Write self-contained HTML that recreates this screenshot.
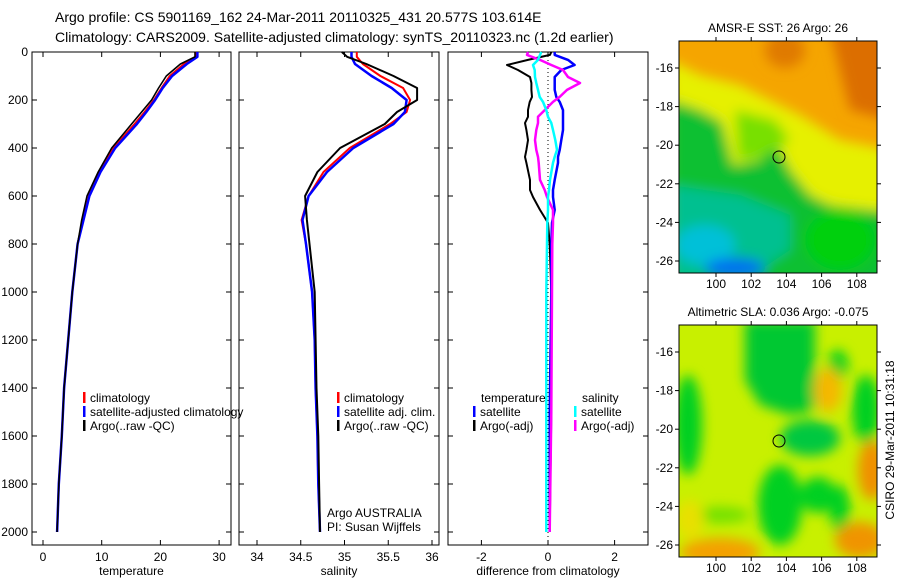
<!DOCTYPE html>
<html><head><meta charset="utf-8"><style>
body{margin:0;background:#fff;}
svg{display:block;font-family:"Liberation Sans",sans-serif;}
</style></head><body>
<svg id="fig" width="900" height="580" viewBox="0 0 900 580" xmlns="http://www.w3.org/2000/svg">
<defs>
<filter id="bl" x="-20%" y="-20%" width="140%" height="140%"><feGaussianBlur stdDeviation="6"/></filter>
<clipPath id="c1"><rect x="679" y="41" width="198" height="232"/></clipPath>
<clipPath id="c2"><rect x="679" y="325" width="198" height="232"/></clipPath>
</defs>
<text x="55" y="22" font-size="14">Argo profile: CS 5901169_162 24-Mar-2011 20110325_431 20.577S 103.614E</text>
<text x="55" y="42" font-size="14">Climatology: CARS2009. Satellite-adjusted climatology: synTS_20110323.nc (1.2d earlier)</text>

<g>
<g clip-path="url(#c1)">
<rect x="679" y="41" width="198" height="232" fill="#f5a500"/>
<g filter="url(#bl)">
<polygon points="830,30 890,30 890,120 850,110" fill="#dc6e00"/>
<ellipse cx="785" cy="50" rx="20" ry="18" fill="#e07a00"/>
<polygon points="670,60 700,75 740,85 800,115 840,140 890,150 890,225 670,225" fill="#e6f000"/>
<polygon points="670,100 700,110 722,122 733,165 760,160 775,140 790,170 810,195 830,205 890,212 890,290 670,290" fill="#10c030"/>
<polygon points="735,110 775,120 790,140 775,150 760,158 738,160" fill="#78e000"/>
<polygon points="670,185 740,195 790,215 790,250 760,270 670,280" fill="#00c090"/>
<ellipse cx="705" cy="245" rx="30" ry="20" fill="#00c0d8"/>
<ellipse cx="735" cy="268" rx="30" ry="10" fill="#0070f0"/>
<ellipse cx="840" cy="240" rx="35" ry="30" fill="#00d010"/>
</g>
</g>
<rect x="679" y="41" width="198" height="232" fill="none" stroke="#000"/>
<circle cx="779" cy="157" r="6" fill="none" stroke="#000"/>
<text x="778" y="32" font-size="12" text-anchor="middle">AMSR-E SST: 26 Argo: 26</text>
</g>

<g>
<g clip-path="url(#c2)">
<rect x="679" y="325" width="198" height="232" fill="#c8f000"/>
<g filter="url(#bl)">
<polygon points="745,320 815,320 815,410 790,415 760,405 745,380" fill="#00c830"/>
<ellipse cx="688" cy="425" rx="14" ry="50" fill="#00d020"/>
<ellipse cx="866" cy="410" rx="14" ry="35" fill="#00d020"/>
<ellipse cx="838" cy="365" rx="10" ry="15" fill="#00d020"/>
<ellipse cx="810" cy="438" rx="30" ry="18" fill="#00c840"/>
<ellipse cx="780" cy="505" rx="22" ry="40" fill="#00d020"/>
<ellipse cx="818" cy="495" rx="18" ry="18" fill="#00d020"/>
<ellipse cx="840" cy="510" rx="10" ry="25" fill="#00d020"/>
<ellipse cx="720" cy="515" rx="30" ry="8" fill="#70e000"/>
<ellipse cx="828" cy="390" rx="14" ry="22" fill="#f5b800"/>
<ellipse cx="872" cy="470" rx="14" ry="30" fill="#f09000"/>
<ellipse cx="720" cy="552" rx="40" ry="14" fill="#f4a000"/>
<ellipse cx="860" cy="540" rx="25" ry="18" fill="#f09400"/>
<ellipse cx="690" cy="520" rx="14" ry="20" fill="#e8e000"/>
</g>
</g>
<rect x="679" y="325" width="198" height="232" fill="none" stroke="#000"/>
<circle cx="779" cy="441" r="6" fill="none" stroke="#000"/>
<text x="778" y="316" font-size="12" text-anchor="middle">Altimetric SLA: 0.036 Argo: -0.075</text>
</g>
<text transform="translate(894,440) rotate(-90)" font-size="12" text-anchor="middle">CSIRO 29-Mar-2011 10:31:18</text>
<g id="axes"></g>
</svg>
<script>
// ---- data ----
const depths = [0, 20, 50, 100, 150, 200, 250, 300, 400, 500, 600, 700, 800, 1000, 1200, 1400, 1600, 1800, 2000];
const tempArgo = [25.9, 25.9, 23.4, 21.0, 19.7, 18.5, 16.8, 15.1, 11.7, 9.4, 7.5, 6.6, 5.9, 5.0, 4.3, 3.6, 3.2, 2.7, 2.4];
const tempClim = [26.1, 26.1, 24.0, 21.6, 20.2, 18.9, 17.3, 15.6, 12.0, 9.7, 7.8, 6.8, 5.9, 5.0, 4.3, 3.6, 3.2, 2.7, 2.4];
const tempSat = [26.3, 26.3, 24.5, 22.0, 20.4, 19.1, 17.6, 16.0, 12.3, 9.8, 7.9, 6.9, 5.9, 5.0, 4.3, 3.6, 3.2, 2.7, 2.4];
const salArgo = [34.97, 35.03, 35.25, 35.56, 35.83, 35.83, 35.60, 35.46, 34.95, 34.69, 34.55, 34.57, 34.60, 34.66, 34.67, 34.68, 34.70, 34.71, 34.72];
const salClim = [35.14, 35.14, 35.21, 35.41, 35.67, 35.75, 35.71, 35.52, 35.06, 34.76, 34.59, 34.51, 34.56, 34.63, 34.66, 34.67, 34.69, 34.70, 34.72];
const salSat = [35.08, 35.08, 35.12, 35.31, 35.54, 35.71, 35.69, 35.56, 35.10, 34.80, 34.59, 34.52, 34.56, 34.63, 34.66, 34.67, 34.69, 34.70, 34.72];
const diffDepths = [0, 12, 33, 54, 75, 104, 129, 158, 187, 208, 242, 270, 296, 325, 367, 408, 437, 462, 533, 575, 604, 658, 712, 800, 1000, 1500, 2000];
const dTempArgo = [0.1, 0.06, -0.6, -1.23, -0.9, -0.54, -0.5, -0.5, -0.48, -0.55, -0.6, -0.6, -0.69, -0.65, -0.6, -0.65, -0.69, -0.65, -0.54, -0.54, -0.45, -0.24, 0.0, 0.05, 0.1, 0.1, 0.05];
const dTempSat = [0.2, 0.2, 0.6, 0.8, 0.4, 0.2, 0.2, 0.2, 0.25, 0.35, 0.45, 0.45, 0.45, 0.45, 0.4, 0.35, 0.3, 0.3, 0.2, 0.15, 0.15, 0.2, 0.12, 0.1, 0.1, 0.05, 0.05];
const dSalArgo = [-0.6, -0.63, -0.24, 0.1, 0.45, 0.6, 0.96, 0.57, 0.35, 0.15, -0.1, -0.3, -0.3, -0.35, -0.39, -0.35, -0.3, -0.28, -0.24, -0.1, -0.03, 0.15, 0.15, 0.13, 0.12, 0.1, 0.05];
const dSalSat = [-0.2, -0.24, -0.3, -0.45, -0.4, -0.39, -0.35, -0.3, -0.25, -0.15, -0.05, 0.0, 0.1, 0.15, 0.22, 0.27, 0.2, 0.15, 0.06, 0.03, 0.0, 0.0, -0.02, -0.03, -0.05, -0.05, -0.05];
const depthTicks = [0, 200, 400, 600, 800, 1000, 1200, 1400, 1600, 1800, 2000];
const tempTicks = [0, 10, 20, 30];
const salTicks = [34, 34.5, 35, 35.5, 36];
const diffTicks = [-2, 0, 2];
const lonTicks = [100, 102, 104, 106, 108];
const latTicks = [16, 18, 20, 22, 24, 26];

// ---- scales ----
const yD = d => 52 + d * 0.24;
const xT = t => 43 + t * 5.87;
const xS = s => 257 + (s - 34) * 87.5;
const xDf = v => 548 + v * 33.3;
const xLon = l => 716 + (l - 100) * 17.6;
const yLat1 = l => 68 + (l - 16) * 19.3;
const yLat2 = l => 352 + (l - 16) * 19.3;

const NS = 'http://www.w3.org/2000/svg';
const g = document.getElementById('axes');
function mk(tag, attrs, parent) {
  const e = document.createElementNS(NS, tag);
  for (const k in attrs) e.setAttribute(k, attrs[k]);
  (parent || g).appendChild(e);
  return e;
}
function txt(x, y, s, anchor, size) {
  const t = mk('text', {x: x, y: y, 'font-size': size || 12, 'text-anchor': anchor || 'middle'});
  t.textContent = s;
  return t;
}
const panels = [
  {x0: 32, x1: 231, name: 'temperature-panel', label: 'temperature', ticks: tempTicks, sx: xT},
  {x0: 239, x1: 439, name: 'salinity-panel', label: 'salinity', ticks: salTicks, sx: xS},
  {x0: 448, x1: 648, name: 'difference-panel', label: 'difference from climatology', ticks: diffTicks, sx: xDf}
];
panels.forEach((p, i) => {
  const r = mk('rect', {x: p.x0, y: 52, width: p.x1 - p.x0, height: 493, fill: 'none', stroke: '#000'});
  
  
  p.ticks.forEach(t => {
    const x = p.sx(t);
    mk('line', {x1: x, x2: x, y1: 52, y2: 57, stroke: '#000'});
    mk('line', {x1: x, x2: x, y1: 545, y2: 540, stroke: '#000'});
    const tl = txt(x, 561, String(t));
    
    
  });
  depthTicks.forEach(d => {
    mk('line', {x1: p.x1, x2: p.x1 - 5, y1: yD(d), y2: yD(d), stroke: '#000'});
    mk('line', {x1: p.x0, x2: p.x0 + 5, y1: yD(d), y2: yD(d), stroke: '#000'});
  });
  const al = txt((p.x0 + p.x1) / 2, 575, p.label);
  
  
});
depthTicks.forEach(d => {
  const t = txt(28, yD(d) + 4, String(d), 'end');
  
  
});
// zero line in difference panel
const zl = mk('line', {x1: xDf(0), x2: xDf(0), y1: 52, y2: 545, stroke: '#000', 'stroke-dasharray': '1,3'});



function series(vals, dep, sx, color, w, name) {
  const pts = vals.map((v, i) => sx(v).toFixed(1) + ',' + yD(dep[i]).toFixed(1)).join(' ');
  const l = mk('polyline', {points: pts, fill: 'none', stroke: color, 'stroke-width': w, 'stroke-linejoin': 'round'});
  
  
}
series(tempClim, depths, xT, '#f00', 2, 'temp-climatology-line');
series(tempSat, depths, xT, '#00f', 2.5, 'temp-satellite-line');
series(tempArgo, depths, xT, '#000', 1.6, 'temp-argo-line');
series(salClim, depths, xS, '#f00', 2, 'sal-climatology-line');
series(salSat, depths, xS, '#00f', 2.5, 'sal-satellite-line');
series(salArgo, depths, xS, '#000', 2, 'sal-argo-line');
series(dTempArgo, diffDepths, xDf, '#000', 2, 'diff-temp-argo-line');
series(dTempSat, diffDepths, xDf, '#00f', 2.5, 'diff-temp-satellite-line');
series(dSalArgo, diffDepths, xDf, '#f0f', 2.5, 'diff-sal-argo-line');
series(dSalSat, diffDepths, xDf, '#0ff', 2.5, 'diff-sal-satellite-line');

function legend(x, y, color, label, name) {
  const m = mk('rect', {x: x, y: y - 10, width: 2.5, height: 11, fill: color});
  
  
  const t = txt(x + 7, y, label, 'start');
  
  
}
legend(83, 402, '#f00', 'climatology', 'legend-temp-climatology');
legend(83, 416, '#00f', 'satellite-adjusted climatology', 'legend-temp-satellite');
legend(83, 430, '#000', 'Argo(..raw -QC)', 'legend-temp-argo');
legend(337, 402, '#f00', 'climatology', 'legend-sal-climatology');
legend(337, 416, '#00f', 'satellite adj. clim.', 'legend-sal-satellite');
legend(337, 430, '#000', 'Argo(..raw -QC)', 'legend-sal-argo');
const lt = txt(481, 402, 'temperature', 'start');


const ls = txt(582, 402, 'salinity', 'start');


legend(473, 416, '#00f', 'satellite', 'legend-diff-temp-satellite');
legend(473, 430, '#000', 'Argo(-adj)', 'legend-diff-temp-argo');
legend(574, 416, '#0ff', 'satellite', 'legend-diff-sal-satellite');
legend(574, 430, '#f0f', 'Argo(-adj)', 'legend-diff-sal-argo');
const a1 = txt(327, 517, 'Argo AUSTRALIA', 'start');


const a2 = txt(327, 531, 'PI: Susan Wijffels', 'start');



// map axes
[[yLat1, 273, 'sst'], [yLat2, 557, 'sla']].forEach(([yl, yb, nm]) => {
  lonTicks.forEach(l => {
    mk('line', {x1: xLon(l), x2: xLon(l), y1: yb, y2: yb + 4, stroke: '#000'});
    mk('line', {x1: xLon(l), x2: xLon(l), y1: yb - 232, y2: yb - 236, stroke: '#000'});
    const t = txt(xLon(l), yb + 15, String(l));
    
    
  });
  latTicks.forEach(l => {
    mk('line', {x1: 679, x2: 675, y1: yl(l), y2: yl(l), stroke: '#000'});
    mk('line', {x1: 877, x2: 881, y1: yl(l), y2: yl(l), stroke: '#000'});
    const t = txt(673, yl(l) + 4, '-' + l, 'end');
    
    
  });
});
</script>
</body></html>
